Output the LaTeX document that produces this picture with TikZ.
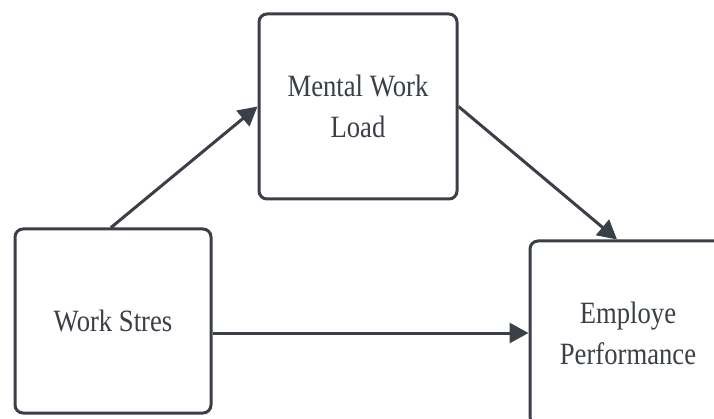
\documentclass[tikz,border=0pt]{standalone}
\usepackage{fontspec}
\setmainfont[FakeStretch=0.86]{Liberation Serif}
\usetikzlibrary{arrows.meta,calc}
\definecolor{ink}{HTML}{3A3F48}
\definecolor{txt}{HTML}{3A3F48}
\tikzset{
  box/.style={draw=ink, line width=3pt, rounded corners=8pt, fill=white,
    minimum width=196pt, minimum height=184pt, inner sep=0pt, align=center,
    text=txt, font=\fontsize{31}{41}\selectfont},
  link/.style={draw=ink, line width=3pt, -{Triangle[length=19pt,width=20pt]}}
}
\begin{document}
\begin{tikzpicture}[x=1pt,y=-1pt]
\useasboundingbox (0,0) rectangle (714,419);
\clip (0,0) rectangle (714,419);
\fill[white] (0,0) rectangle (714,419);
\node[box] (ws) at (113,321) {Work Stres};
\node[box, minimum width=198pt, minimum height=185pt] (ml) at (358,106.5) {Mental Work\\Load};
\node[box] (ep) at (628,333) {Employe\\Performance};
\coordinate (wsn) at ([xshift=-2pt]ws.north);
\coordinate (ept) at ([xshift=-11pt]ep.north);
\draw[link] (wsn) -- (ml.west);
\draw[link] (ml.east) -- (ept);
\draw[link] (ep.west -| ws.east) -- (ep.west);
\end{tikzpicture}
\end{document}
